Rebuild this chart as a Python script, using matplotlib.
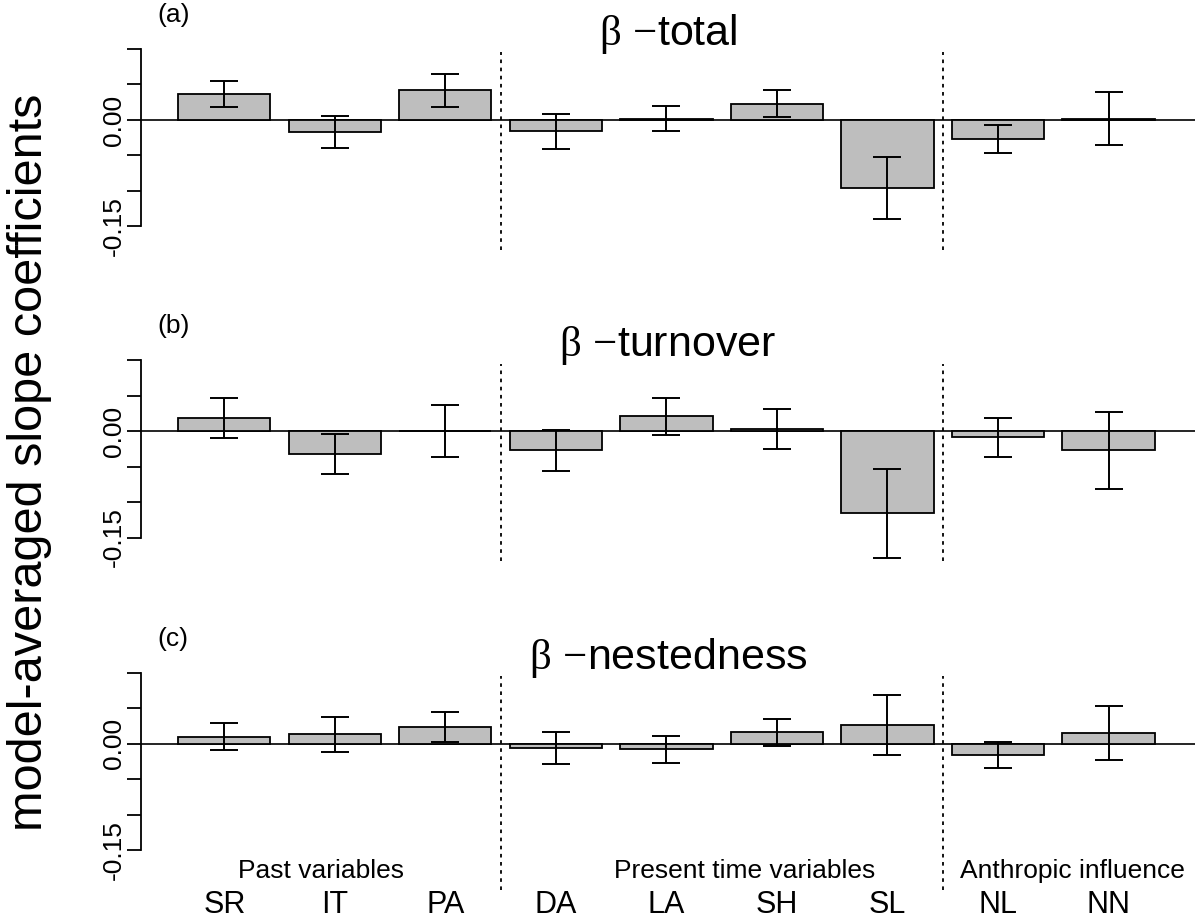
import numpy as np
import matplotlib
matplotlib.use("Agg")
import matplotlib.pyplot as plt

plt.rcParams['font.family'] = ['Liberation Sans', 'DejaVu Sans']
plt.rcParams['mathtext.fontset'] = 'custom'
plt.rcParams['mathtext.rm'] = 'Liberation Serif'

variables = ["SR", "IT", "PA", "DA", "LA", "SH", "SL", "NL", "NN"]
groups = ["Past variables", "Present time variables", "Anthropic influence"]
group_sizes = [3, 4, 2]

panel_titles = ["total", "turnover", "nestedness"]
panel_letters = ["(a)", "(b)", "(c)"]

total_coef = [0.037, -0.017, 0.042, -0.016, 0.002, 0.023, -0.096, -0.027, 0.002]
total_err = [0.018, 0.022, 0.023, 0.025, 0.018, 0.019, 0.044, 0.020, 0.037]

turnover_coef = [0.018, -0.032, 0.0, -0.027, 0.021, 0.003, -0.116, -0.009, -0.027]
turnover_err = [0.028, 0.028, 0.037, 0.029, 0.026, 0.028, 0.063, 0.028, 0.054]

nested_coef = [0.010, 0.013, 0.023, -0.006, -0.008, 0.016, 0.026, -0.016, 0.015]
nested_err = [0.019, 0.024, 0.021, 0.022, 0.019, 0.019, 0.042, 0.018, 0.038]

coefs = [total_coef, turnover_coef, nested_coef]
errs = [total_err, turnover_err, nested_err]

yticks = [0.10, 0.05, 0.00, -0.05, -0.10, -0.15]
ytick_labels = ["", "", "0.00", "", "", "-0.15"]

W, H = 1203, 922
fig = plt.figure(figsize=(W / 100, H / 100), dpi=100)

zero_px = [120, 431, 743.7]
sep_bottom = [130, 130, 146]   # px below the zero line
sep_top = 67.5                 # px above the zero line
ax_left, ax_right = 141, 1195
above, below = 75, 135
ppu = 710.0
x0_px, px_per_unit = 159.9, 92.1

x = np.arange(len(variables)) * 1.2 + 0.7
bar_w = 1.0

group_label_px = [321, 745, 1072]

for k in range(3):
    ax = fig.add_axes([ax_left / W, 1 - (zero_px[k] + below) / H,
                       (ax_right - ax_left) / W, (above + below) / H])
    ax.set_xlim((ax_left - x0_px) / px_per_unit, (ax_right - x0_px) / px_per_unit)
    ax.set_ylim(-below / ppu, above / ppu)
    ax.bar(x, coefs[k], width=bar_w, color="#bebebe", edgecolor="black",
           linewidth=1.3, zorder=2)
    ax.errorbar(x, coefs[k], yerr=errs[k], fmt="none", ecolor="black",
                elinewidth=1.4, capsize=10, capthick=1.4, zorder=3)
    ax.axhline(0, color="black", lw=1.2, zorder=1)
    # group separators
    ends = np.cumsum(group_sizes)[:-1]
    yb = (below - sep_bottom[k]) / (above + below)
    yt = (below + sep_top) / (above + below)
    for e in ends:
        xs = (x[e - 1] + x[e]) / 2
        ax.plot([xs, xs], [yb, yt], transform=ax.get_xaxis_transform(),
                color="black", lw=1.3, ls=(0, (2, 2.5)), zorder=1, clip_on=False)
    for s in ["top", "right", "bottom"]:
        ax.spines[s].set_visible(False)
    ax.spines["left"].set_bounds(-0.15, 0.10)
    ax.spines["left"].set_linewidth(1.3)
    ax.set_yticks(yticks)
    ax.set_yticklabels(ytick_labels, rotation=90, va="center", fontsize=19)
    ax.tick_params(axis="y", length=10, width=1.3, pad=1)
    ax.tick_params(axis="x", length=0)
    if k == 2:
        ax.set_xticks(x)
        ax.set_xticklabels(variables, fontsize=22)
        ax.tick_params(axis="x", pad=8)
        for g in range(len(groups)):
            xc = (group_label_px[g] - x0_px) / px_per_unit
            ax.text(xc, -(878 - zero_px[k]) / ppu, groups[g], ha="center",
                    va="baseline", fontsize=19,
                    family=["Liberation Sans Narrow", "Liberation Sans"])
    else:
        ax.set_xticks([])
    ax.text(0.5, 1.0, r"$\mathrm{\beta}$ $-$" + panel_titles[k],
            transform=ax.transAxes, ha="center", va="baseline", fontsize=31)
    ax.text((157 - ax_left) / (ax_right - ax_left), (below + 98) / (above + below),
            panel_letters[k], transform=ax.transAxes, ha="left", va="baseline",
            fontsize=19, family=["Liberation Sans Narrow", "Liberation Sans"])

fig.text(30 / W, 1 - 462 / H, "model-averaged slope coefficients", rotation=90,
         ha="center", va="center", fontsize=35)

fig.savefig("out.png", dpi=100)
